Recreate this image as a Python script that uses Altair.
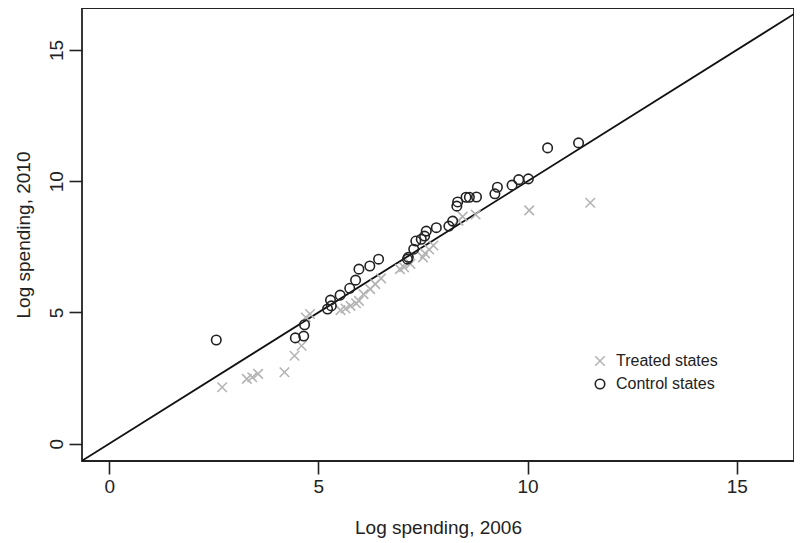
import altair as alt
import pandas as pd

# Treated states (log spending 2006, 2010)
treated_x = [2.70, 3.29, 3.42, 3.56, 4.19, 4.43, 4.60, 4.70, 4.80, 5.53, 5.65, 5.77, 5.90, 5.97,
             6.08, 6.24, 6.36, 6.50, 6.95, 7.05, 7.20, 7.50, 7.55, 7.65, 7.75, 8.35, 8.45, 8.76,
             10.04, 11.50]
treated_y = [2.15, 2.47, 2.53, 2.66, 2.72, 3.35, 3.73, 4.81, 4.94, 5.09, 5.15, 5.25, 5.35, 5.44,
             5.70, 5.89, 6.08, 6.30, 6.65, 6.72, 6.85, 7.10, 7.25, 7.40, 7.55, 8.50, 8.65, 8.73,
             8.89, 9.18]

# Control states
control_x = [2.56, 4.45, 4.65, 4.67, 5.22, 5.31, 5.29, 5.52, 5.75, 5.89, 5.97, 6.23, 6.44, 7.13,
             7.15, 7.28, 7.33, 7.46, 7.54, 7.58, 7.82, 8.12, 8.21, 8.31, 8.33, 8.53, 8.61, 8.78,
             9.22, 9.28, 9.63, 9.79, 10.02, 10.48, 11.22]
control_y = [3.95, 4.03, 4.10, 4.53, 5.13, 5.25, 5.47, 5.66, 5.92, 6.23, 6.65, 6.77, 7.03, 7.03,
             7.10, 7.41, 7.72, 7.79, 7.91, 8.10, 8.23, 8.29, 8.48, 9.05, 9.21, 9.39, 9.39, 9.40,
             9.52, 9.77, 9.85, 10.06, 10.09, 11.27, 11.46]

groups = ["Treated states", "Control states"]
line_vals = [-2, 20]
ticks = [0, 5, 10, 15]

df = pd.concat([
    pd.DataFrame({"x": treated_x, "y": treated_y, "group": groups[0]}),
    pd.DataFrame({"x": control_x, "y": control_y, "group": groups[1]}),
])
line_df = pd.DataFrame({"x": line_vals, "y": line_vals})

FONT = "Liberation Sans"
xs = alt.Scale(domain=[-0.65, 16.37], nice=False, zero=False)
ys = alt.Scale(domain=[-0.66, 16.6], nice=False, zero=False)

X_PATH = "M -1 -1 L 1 1 M -1 1 L 1 -1"

points = alt.Chart(df).mark_point(filled=False, strokeWidth=1.6, opacity=1).encode(
    x=alt.X("x:Q", scale=xs, title="Log spending, 2006",
            axis=alt.Axis(values=ticks, format="d")),
    y=alt.Y("y:Q", scale=ys, title="Log spending, 2010",
            axis=alt.Axis(values=ticks, format="d", labelAngle=270,
                          labelAlign="center", labelBaseline="bottom")),
    color=alt.Color("group:N", scale=alt.Scale(domain=groups, range=["#b4b4b4", "#222222"]),
                    legend=alt.Legend(title=None, orient="none", legendX=510, legendY=345,
                                      labelFontSize=16, labelFont=FONT, labelColor="#222222",
                                      symbolSize=90, symbolStrokeWidth=1.6, rowPadding=7,
                                      labelOffset=8, padding=0)),
    shape=alt.Shape("group:N", scale=alt.Scale(domain=groups, range=[X_PATH, "circle"]),
                    legend=None),
    size=alt.value(90),
)

line = alt.Chart(line_df).mark_line(color="#111111", strokeWidth=1.8, clip=True).encode(
    x=alt.X("x:Q", scale=xs),
    y=alt.Y("y:Q", scale=ys),
)

chart = alt.layer(line, points).properties(
    width=712, height=453,
    padding={"left": 74, "top": 0, "right": 0, "bottom": 78},
    autosize=alt.AutoSizeParams(type="none"),
).configure_view(
    stroke="#222222", strokeWidth=1.8
).configure_axis(
    grid=False, domain=False, ticks=True, tickColor="#222222", tickWidth=1.6, tickSize=13,
    labelFont=FONT, labelFontSize=19, labelColor="#222222", labelPadding=3,
    titleFont=FONT, titleFontSize=19, titleColor="#222222", titleFontWeight="normal",
).configure_axisX(titlePadding=22).configure_axisY(titlePadding=14)

chart.save("out.html", embed_options={"renderer": "svg", "actions": False})
